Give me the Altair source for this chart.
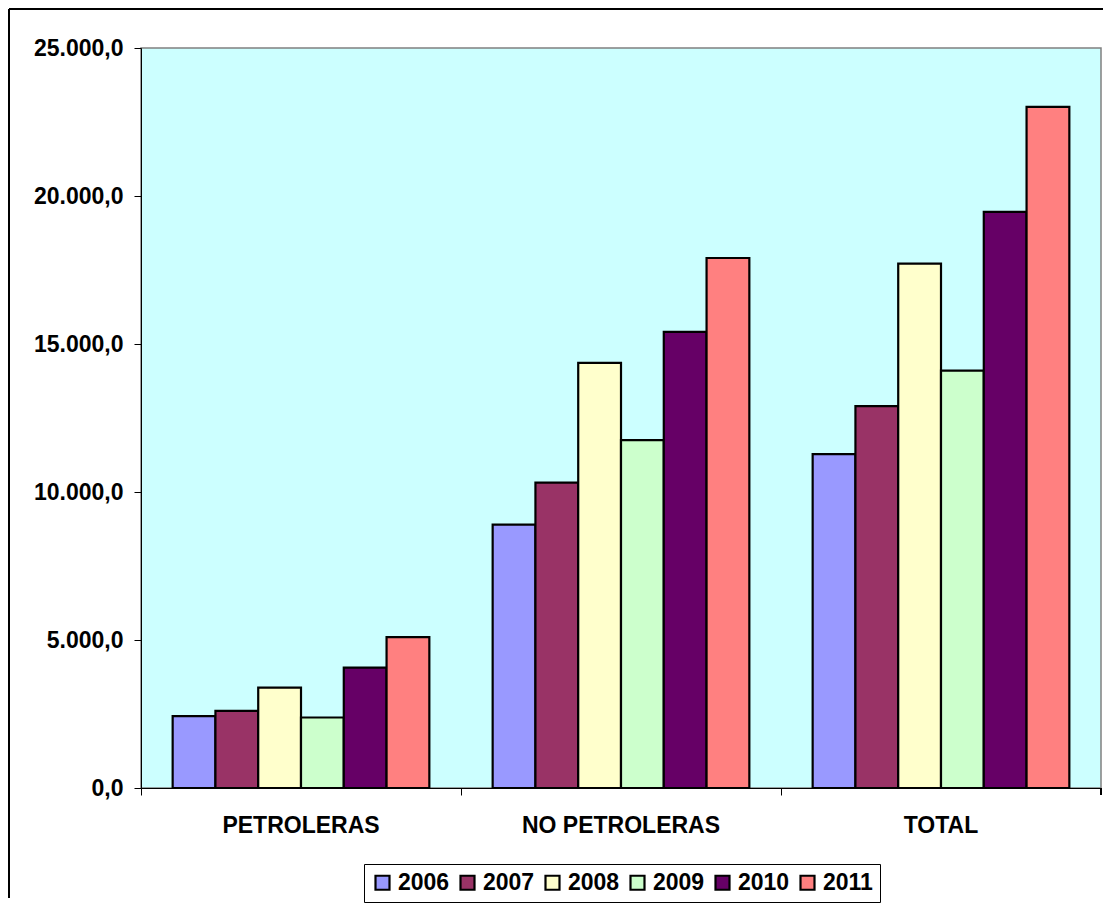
import altair as alt
import pandas as pd

categories = ["PETROLERAS", "NO PETROLERAS", "TOTAL"]
years = ["2006", "2007", "2008", "2009", "2010", "2011"]
petroleras = [2426, 2605, 3392, 2382, 4066, 5098]
no_petroleras = [8897, 10314, 14362, 11751, 15408, 17905]
total = [11279, 12898, 17713, 14102, 19467, 23009]
colors = ["#9999FF", "#993366", "#FFFFCC", "#CCFFCC", "#660066", "#FF8080"]

rows = []
for cat, vals in zip(categories, [petroleras, no_petroleras, total]):
    for y, v in zip(years, vals):
        rows.append({"cat": cat, "year": y, "value": v})
df = pd.DataFrame(rows)

W, H = 960, 740
FONT = "Liberation Sans"

label_expr = ("replace(replace(replace(format(datum.value, ',.1f'), ',', '#'), '.', ','), '#', '.')")

bars = alt.Chart(df).mark_bar(stroke="black", strokeWidth=2.2).encode(
    x=alt.X("cat:N", sort=categories, title=None,
            scale=alt.Scale(paddingInner=0, paddingOuter=0),
            axis=alt.Axis(labelAngle=0, bandPosition=0, tickSize=7, labelPadding=19,
                          labelFontSize=23, labelFontWeight="bold", labelColor="black",
                          labelFont=FONT, domainColor="black", tickColor="black",
                          labelLimit=0, labelBound=False)),
    xOffset=alt.XOffset("year:N", sort=years,
                        scale=alt.Scale(paddingInner=0, paddingOuter=0.74)),
    y=alt.Y("value:Q", title=None,
            scale=alt.Scale(domain=[0, 25000], nice=False),
            axis=alt.Axis(values=[0, 5000, 10000, 15000, 20000, 25000], grid=False,
                          labelExpr=label_expr, tickSize=7, labelPadding=11,
                          labelFontSize=23, labelFontWeight="bold", labelColor="black",
                          labelFont=FONT, domainColor="black", tickColor="black",
                          labelLimit=0)),
    color=alt.Color("year:N", sort=years,
                    scale=alt.Scale(domain=years, range=colors),
                    legend=alt.Legend(title=None, orient="none", legendX=223, legendY=816,
                                      direction="horizontal", strokeColor="black",
                                      padding=7, symbolType="square", symbolSize=196,
                                      symbolStrokeColor="black", symbolStrokeWidth=2.2,
                                      symbolOpacity=1, labelFontSize=23,
                                      labelFontWeight="bold", labelColor="black",
                                      labelFont=FONT, columnPadding=6, labelOffset=4,
                                      labelLimit=0)),
)

end_tick = alt.Chart(df).mark_rule(color="black", strokeWidth=1).encode(
    x=alt.value(W), y=alt.value(H), y2=alt.value(H + 7)
)

frame_left = alt.Chart(df).mark_rule(color="black", strokeWidth=2).encode(
    x=alt.value(-132), y=alt.value(-39), y2=alt.value(H + 110)
)
frame_top = alt.Chart(df).mark_rule(color="black", strokeWidth=2).encode(
    x=alt.value(-132), x2=alt.value(W + 2), y=alt.value(-39)
)

chart = alt.layer(frame_left, frame_top, bars, end_tick).properties(
    width=W, height=H, padding=0, background="white"
).configure_view(
    fill="#CCFFFF", stroke="#808080", strokeWidth=1.5
)

chart.save("out.html", embed_options={"renderer": "svg", "actions": False})
